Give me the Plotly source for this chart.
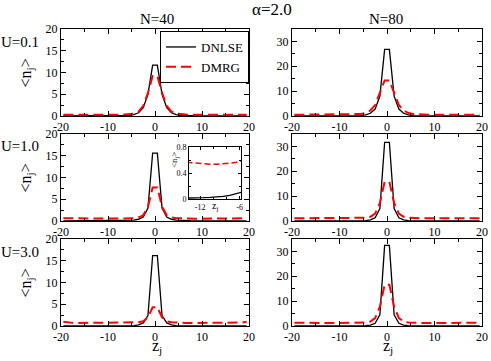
import plotly.graph_objects as go

# lattice positions z_j (half-integer sites)
z = [k + 0.5 for k in range(-20, 20)]

# half profiles, for z = 0.5, 1.5, ..., 19.5 (profiles are symmetric)
dnlse_u01_n40 = [11.7, 5.0, 1.9, 0.75, 0.3, 0.12, 0.05, 0.02, 0.01, 0, 0, 0, 0, 0, 0, 0, 0, 0, 0, 0]
dmrg_u01_n40 = [9.2, 5.3, 2.3, 1.0, 0.55, 0.4, 0.33, 0.3, 0.28, 0.27, 0.27, 0.27, 0.27, 0.27, 0.27, 0.27, 0.27, 0.27, 0.27, 0.28]
dnlse_u01_n80 = [26.8, 8.0, 2.8, 1.1, 0.45, 0.18, 0.07, 0.03, 0.01, 0, 0, 0, 0, 0, 0, 0, 0, 0, 0, 0]
dmrg_u01_n80 = [14.3, 9.0, 4.4, 2.2, 1.2, 0.8, 0.62, 0.55, 0.5, 0.5, 0.5, 0.5, 0.5, 0.5, 0.5, 0.5, 0.5, 0.5, 0.5, 0.5]

dnlse_u10_n40 = [15.6, 3.0, 0.9, 0.4, 0.2, 0.11, 0.075, 0.055, 0.04, 0.03, 0.025, 0.02, 0.015, 0.012, 0.01, 0.008, 0.006, 0.005, 0.004, 0.003]
dmrg_u10_n40 = [7.7, 3.3, 1.3, 0.85, 0.65, 0.59, 0.565, 0.55, 0.54, 0.535, 0.535, 0.54, 0.55, 0.56, 0.57, 0.58, 0.59, 0.6, 0.61, 0.63]
dnlse_u10_n80 = [31.6, 5.0, 1.3, 0.45, 0.15, 0.06, 0.025, 0.01, 0, 0, 0, 0, 0, 0, 0, 0, 0, 0, 0, 0]
dmrg_u10_n80 = [15.8, 7.2, 3.0, 1.7, 1.3, 1.15, 1.1, 1.1, 1.1, 1.1, 1.1, 1.1, 1.1, 1.1, 1.1, 1.1, 1.1, 1.1, 1.1, 1.1]

dnlse_u30_n40 = [16.2, 2.4, 0.7, 0.25, 0.1, 0.04, 0.02, 0.01, 0, 0, 0, 0, 0, 0, 0, 0, 0, 0, 0, 0]
dmrg_u30_n40 = [4.3, 2.0, 1.1, 0.85, 0.75, 0.72, 0.7, 0.7, 0.7, 0.7, 0.7, 0.7, 0.7, 0.7, 0.7, 0.7, 0.7, 0.72, 0.8, 1.0]
dnlse_u30_n80 = [32.4, 4.5, 1.1, 0.35, 0.12, 0.04, 0.015, 0, 0, 0, 0, 0, 0, 0, 0, 0, 0, 0, 0, 0]
dmrg_u30_n80 = [16.6, 7.8, 3.2, 1.8, 1.4, 1.25, 1.2, 1.2, 1.2, 1.2, 1.2, 1.2, 1.2, 1.2, 1.2, 1.2, 1.2, 1.2, 1.25, 1.3]

u_labels = ["U=0.1", "U=1.0", "U=3.0"]
n_labels = ["N=40", "N=80"]
x_ticks = [-20, -10, 0, 10, 20]
y_ticks_left = [0, 5, 10, 15, 20]
y_ticks_right = [0, 10, 20, 30]
inset_x_ticks = [-12, -6]
inset_y_ticks = [0, 0.4, 0.8]


def full(half):
    return half[::-1] + half


def labels(vals):
    # plain hyphen minus like the original
    return [str(v) for v in vals]


panels = [
    (dnlse_u01_n40, dmrg_u01_n40), (dnlse_u01_n80, dmrg_u01_n80),
    (dnlse_u10_n40, dmrg_u10_n40), (dnlse_u10_n80, dmrg_u10_n80),
    (dnlse_u30_n40, dmrg_u30_n40), (dnlse_u30_n80, dmrg_u30_n80),
]

W, H = 491, 361
FONT = "Liberation Serif"
col_px = [(61, 249), (292, 482)]
row_px = [(29, 116), (134, 221), (239, 326)]

fig = go.Figure()

axis_style = dict(
    showline=True, linecolor="black", linewidth=1, mirror="ticks",
    ticks="inside", ticklen=5, tickcolor="black", showgrid=False, zeroline=False,
    automargin=False, tickfont=dict(family=FONT, size=12, color="black"),
)

for i, (dn, dm) in enumerate(panels):
    r, c = divmod(i, 2)
    n = i + 1
    xa = "x" if n == 1 else f"x{n}"
    ya = "y" if n == 1 else f"y{n}"
    fig.add_trace(go.Scatter(x=z, y=full(dn), mode="lines", name="DNLSE",
                             line=dict(color="black", width=1.3),
                             showlegend=(i == 0), xaxis=xa, yaxis=ya))
    fig.add_trace(go.Scatter(x=z, y=full(dm), mode="lines", name="DMRG",
                             line=dict(color="red", width=2, dash="10px,5px"),
                             showlegend=(i == 0), xaxis=xa, yaxis=ya))
    x0, x1 = col_px[c]
    y0, y1 = row_px[r]
    key = "" if n == 1 else str(n)
    fig.layout["xaxis" + key] = dict(
        axis_style, domain=[x0 / W, x1 / W], range=[-20, 20],
        tickvals=x_ticks, ticktext=labels(x_ticks),
        minor=dict(ticks="inside", ticklen=3, dtick=5, tickcolor="black"),
        anchor=ya,
    )
    if c == 0:
        yr, yt, ymin = [0, 20], y_ticks_left, 2.5
    else:
        yr, yt, ymin = [0, 35], y_ticks_right, 5
    fig.layout["yaxis" + key] = dict(
        axis_style, domain=[1 - y1 / H, 1 - y0 / H], range=yr,
        tickvals=yt, ticktext=labels(yt),
        minor=dict(ticks="inside", ticklen=3, dtick=ymin, tickcolor="black"),
        anchor=xa,
    )

# inset: zoom of U=1.0, N=40
fig.add_trace(go.Scatter(x=z, y=full(dnlse_u10_n40), mode="lines", showlegend=False,
                         line=dict(color="black", width=1.3), xaxis="x7", yaxis="y7"))
fig.add_trace(go.Scatter(x=z, y=full(dmrg_u10_n40), mode="lines", showlegend=False,
                         line=dict(color="red", width=1.5, dash="6px,3px"), xaxis="x7", yaxis="y7"))
small = dict(axis_style, tickfont=dict(family=FONT, size=8, color="black"), ticklen=3)
fig.layout["xaxis7"] = dict(
    small, domain=[189 / W, 241 / W], range=[-13.7, -5.8],
    tickvals=inset_x_ticks, ticktext=labels(inset_x_ticks),
    minor=dict(ticks="inside", ticklen=2, dtick=2, tickcolor="black"), anchor="y7",
)
fig.layout["yaxis7"] = dict(
    small, domain=[1 - 199 / H, 1 - 147 / H], range=[0, 0.8],
    tickvals=inset_y_ticks, ticktext=labels(inset_y_ticks),
    minor=dict(ticks="inside", ticklen=2, dtick=0.2, tickcolor="black"), anchor="x7",
)

ann = []


def txt(x, y, s, size, angle=0):
    ann.append(dict(x=x / W, y=1 - y / H, xref="paper", yref="paper", text=s,
                    xanchor="center", yanchor="middle",
                    showarrow=False, textangle=angle,
                    font=dict(family=FONT, size=size, color="black")))


txt(272, 10, "α=2.0", 17)
txt(157, 19, n_labels[0], 15)
txt(386, 19, n_labels[1], 15)
for k, (y0, y1) in enumerate(row_px):
    txt(20, [42, 146, 252][k], u_labels[k], 15)
    txt(26, (y0 + y1) / 2 + 1, "&lt;n<sub>j</sub>&gt;", 16, -90)
txt(157, 346, "z<sub>j</sub>", 16)
txt(388, 346, "z<sub>j</sub>", 16)
# inset labels
txt(174, 160, "&lt;n<sub>j</sub>&gt;", 9, -90)
txt(215, 206, "z<sub>j</sub>", 10)

fig.update_layout(
    width=W, height=H, margin=dict(l=0, r=0, t=0, b=0),
    paper_bgcolor="white", plot_bgcolor="white",
    annotations=ann,
    legend=dict(x=249 / W, xanchor="right", y=1 - 31 / H, yanchor="top",
                bordercolor="black", borderwidth=1, bgcolor="white",
                font=dict(family=FONT, size=13, color="black"),
                itemwidth=30, tracegroupgap=0),
)

# drop the browser's default 8px body margin so the figure sits at the page origin
fig.write_html("out.html", config={"displayModeBar": False},
               post_script="document.body.style.margin='0';")
